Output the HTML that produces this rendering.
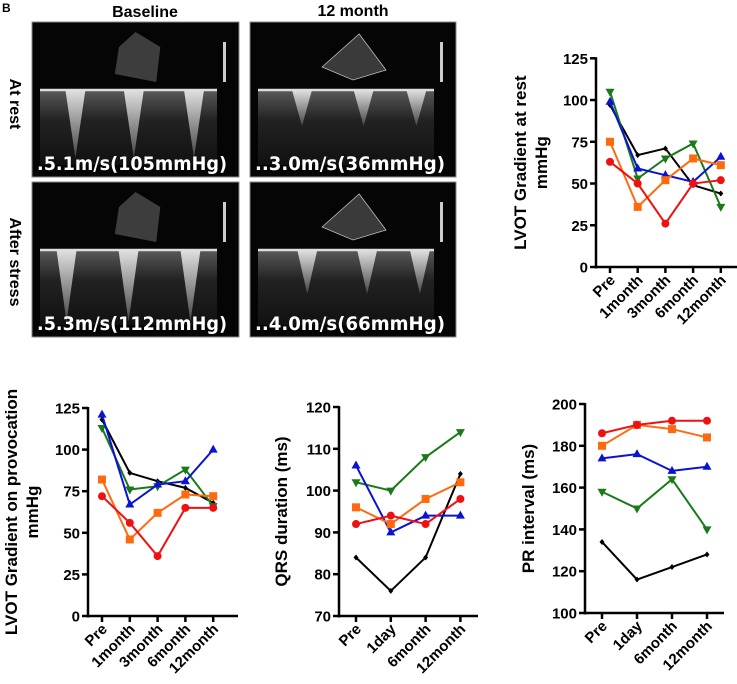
<!DOCTYPE html>
<html><head><meta charset="utf-8"><style>
html,body{margin:0;padding:0;background:#fff;}
svg{display:block;font-family:"Liberation Sans",Arial,sans-serif;}
</style></head><body>
<svg id="fig" width="737" height="684" viewBox="0 0 737 684" xmlns="http://www.w3.org/2000/svg">
<defs>
<linearGradient id="dop" x1="0" y1="0" x2="0" y2="1"><stop offset="0" stop-color="#e0e0e0"/><stop offset="1" stop-color="#444"/></linearGradient>
<linearGradient id="bg" x1="0" y1="0" x2="0" y2="1"><stop offset="0" stop-color="#5a5a5a"/><stop offset="0.4" stop-color="#222"/><stop offset="1" stop-color="#111"/></linearGradient>
</defs>
<text x="2" y="12" font-size="12" font-weight="bold" fill="#000">B</text>
<text x="145" y="17" font-size="16" font-weight="bold" text-anchor="middle">Baseline</text>
<text x="353" y="16" font-size="16" font-weight="bold" text-anchor="middle">12 month</text>
<text transform="translate(10,104) rotate(90)" font-size="16" font-weight="bold" text-anchor="middle">At rest</text>
<text transform="translate(10,262) rotate(90)" font-size="16" font-weight="bold" text-anchor="middle">After stress</text>
<g id="echo"></g>
<g id="charts"></g>
</svg>
<script>
// ---- chart data ----
const restCats = ["Pre","1month","3month","6month","12month"];
const restBlack = [97,67,71,49,44];
const restGreen = [105,53,65,74,36];
const restBlue = [99,59,55,51,66];
const restOrange = [75,36,52,65,61];
const restRed = [63,50,26,50,52];
const restTicks = [0,25,50,75,100,125];

const provCats = ["Pre","1month","3month","6month","12month"];
const provBlack = [118,86,81,77,68];
const provGreen = [113,76,78,88,66];
const provBlue = [121,67,79,81,100];
const provOrange = [82,46,62,73,72];
const provRed = [72,56,36,65,65];
const provTicks = [0,25,50,75,100,125];

const qrsCats = ["Pre","1day","6month","12month"];
const qrsBlack = [84,76,84,104];
const qrsGreen = [102,100,108,114];
const qrsBlue = [106,90,94,94];
const qrsOrange = [96,92,98,102];
const qrsRed = [92,94,92,98];
const qrsTicks = [70,80,90,100,110,120];

const prCats = ["Pre","1day","6month","12month"];
const prBlack = [134,116,122,128];
const prGreen = [158,150,164,140];
const prBlue = [174,176,168,170];
const prOrange = [180,190,188,184];
const prRed = [186,190,192,192];
const prTicks = [100,120,140,160,180,200];

const NS = "http://www.w3.org/2000/svg";
function mk(tag, attrs, parent){const e=document.createElementNS(NS,tag);for(const k in attrs)e.setAttribute(k,attrs[k]);parent.appendChild(e);return e;}

// ---- echo panels ----
const echo=document.getElementById('echo');
const panels=[
 {x:32,y:22,w:207,h:155,txt:".5.1m/s(105mmHg)",beats:[0.2,0.53,0.87],depth:0.85,n:"baseline-rest",sec:0},
 {x:250,y:22,w:206,h:155,txt:"..3.0m/s(36mmHg)",beats:[0.25,0.6,0.9],depth:0.45,n:"12month-rest",sec:1},
 {x:32,y:182,w:207,h:155,txt:".5.3m/s(112mmHg)",beats:[0.15,0.5,0.85],depth:0.9,n:"baseline-stress",sec:0},
 {x:250,y:182,w:206,h:155,txt:"..4.0m/s(66mmHg)",beats:[0.28,0.62,0.92],depth:0.55,n:"12month-stress",sec:1}
];
panels.forEach(p=>{
 const g=mk('g',{},echo);
 
 
 mk('rect',{x:p.x,y:p.y,width:p.w,height:p.h,fill:'#050505',stroke:'#888','stroke-width':1},g);
 const by=p.y+68;
 if(p.sec){
  mk('polygon',{points:`${p.x+p.w*0.53},${p.y+12} ${p.x+p.w*0.66},${p.y+48} ${p.x+p.w*0.5},${p.y+58} ${p.x+p.w*0.35},${p.y+45}`,fill:'#3a3a3a',stroke:'#bbb','stroke-width':0.8},g);
 } else {
  mk('polygon',{points:`${p.x+p.w*0.5},${p.y+10} ${p.x+p.w*0.62},${p.y+25} ${p.x+p.w*0.6},${p.y+60} ${p.x+p.w*0.4},${p.y+52} ${p.x+p.w*0.42},${p.y+25}`,fill:'#444',opacity:0.9},g);
 }
 mk('rect',{x:p.x+8,y:by,width:p.w-30,height:p.h-80,fill:'url(#bg)'},g);
 mk('line',{x1:p.x+8,y1:by,x2:p.x+p.w-22,y2:by,stroke:'#ddd','stroke-width':2.5},g);
 p.beats.forEach(b=>{
  const cx=p.x+8+(p.w-30)*b;
  mk('polygon',{points:`${cx-10},${by} ${cx+10},${by} ${cx},${by+(p.h-75)*p.depth}`,fill:'url(#dop)'},g);
 });
 mk('rect',{x:p.x+p.w-16,y:p.y+20,width:3,height:40,fill:'#ccc'},g);
 const t=mk('text',{x:p.x+5,y:p.y+p.h-7,'font-size':19,'font-weight':'bold',fill:'#fff',textLength:190,lengthAdjust:'spacingAndGlyphs','font-family':'"DejaVu Sans","Liberation Sans",sans-serif'},g);
 t.textContent=p.txt;
 
 
});

// ---- charts ----
const charts=document.getElementById('charts');
const colors={black:'#000',green:'#1a7a1a',blue:'#0a14d0',orange:'#ff6a10',red:'#f01010'};
function marker(g,shape,x,y,c){
 if(shape==='circle')mk('circle',{cx:x,cy:y,r:4,fill:c},g);
 else if(shape==='square')mk('rect',{x:x-4,y:y-4,width:8,height:8,fill:c},g);
 else if(shape==='up')mk('polygon',{points:`${x},${y-5} ${x+4.5},${y+3} ${x-4.5},${y+3}`,fill:c},g);
 else if(shape==='down')mk('polygon',{points:`${x},${y+5} ${x+4.5},${y-3} ${x-4.5},${y-3}`,fill:c},g);
 else mk('polygon',{points:`${x},${y-3} ${x+2.5},${y} ${x},${y+3} ${x-2.5},${y}`,fill:c},g);
}
function chart(cfg){
 const g=mk('g',{},charts);
 
 
 const min=cfg.ticks[0],max=cfg.ticks[cfg.ticks.length-1];
 const yS=v=>cfg.y0+(cfg.y1-cfg.y0)*(v-min)/(max-min);
 const xS=i=>cfg.xc0+i*cfg.dx;
 mk('line',{x1:cfg.ax,y1:cfg.y1-1,x2:cfg.ax,y2:cfg.y0+1.5,stroke:'#000','stroke-width':2.5},g);
 mk('line',{x1:cfg.ax-1.2,y1:cfg.y0,x2:cfg.axEnd,y2:cfg.y0,stroke:'#000','stroke-width':2.5},g);
 cfg.ticks.forEach(t=>{
  const y=yS(t);
  mk('line',{x1:cfg.ax-6,y1:y,x2:cfg.ax,y2:y,stroke:'#000','stroke-width':2.5},g);
  const tx=mk('text',{x:cfg.ax-8,y:y+5.5,'font-size':15,'font-weight':'bold','text-anchor':'end'},g);
  tx.textContent=t;
  
  
 });
 cfg.cats.forEach((c,i)=>{
  const x=xS(i);
  mk('line',{x1:x,y1:cfg.y0,x2:x,y2:cfg.y0+6,stroke:'#000','stroke-width':2.5},g);
  const tx=mk('text',{transform:`translate(${x+6},${cfg.y0+14}) rotate(-45)`,'font-size':15,'font-weight':'bold','text-anchor':'end'},g);
  tx.textContent=c;
  
  
 });
 const tl=mk('text',{transform:`translate(${cfg.tx},${(cfg.y0+cfg.y1)/2}) rotate(-90)`,'font-size':17,'font-weight':'bold','text-anchor':'middle'},g);
 tl.textContent=cfg.title;
 
 
 if(cfg.title2){
  const t2=mk('text',{transform:`translate(${cfg.tx+21},${(cfg.y0+cfg.y1)/2}) rotate(-90)`,'font-size':17,'font-weight':'bold','text-anchor':'middle'},g);
  t2.textContent=cfg.title2;
  
  
 }
 cfg.series.forEach(s=>{
  const sg=mk('g',{},g);
  
  
  const pts=s.v.map((v,i)=>xS(i)+','+yS(v)).join(' ');
  mk('polyline',{points:pts,fill:'none',stroke:colors[s.k],'stroke-width':2},sg);
  s.v.forEach((v,i)=>marker(sg,s.m,xS(i),yS(v),colors[s.k]));
 });
}
chart({name:'rest-gradient-chart',cats:restCats,ticks:restTicks,ax:596,axEnd:737,y0:267,y1:58.3,xc0:610,dx:27.7,tx:526,title:'LVOT Gradient at rest',title2:'mmHg',
 series:[{k:'black',v:restBlack,m:'d'},{k:'green',v:restGreen,m:'down'},{k:'blue',v:restBlue,m:'up'},{k:'orange',v:restOrange,m:'square'},{k:'red',v:restRed,m:'circle'}]});
chart({name:'provocation-gradient-chart',cats:provCats,ticks:provTicks,ax:88,axEnd:238,y0:616,y1:408,xc0:102,dx:27.8,tx:17,title:'LVOT Gradient on provocation',title2:'mmHg',
 series:[{k:'black',v:provBlack,m:'d'},{k:'green',v:provGreen,m:'down'},{k:'blue',v:provBlue,m:'up'},{k:'orange',v:provOrange,m:'square'},{k:'red',v:provRed,m:'circle'}]});
chart({name:'qrs-duration-chart',cats:qrsCats,ticks:qrsTicks,ax:339,axEnd:478,y0:616,y1:407,xc0:356,dx:34.8,tx:287,title:'QRS duration (ms)',
 series:[{k:'black',v:qrsBlack,m:'d'},{k:'green',v:qrsGreen,m:'down'},{k:'blue',v:qrsBlue,m:'up'},{k:'orange',v:qrsOrange,m:'square'},{k:'red',v:qrsRed,m:'circle'}]});
chart({name:'pr-interval-chart',cats:prCats,ticks:prTicks,ax:585,axEnd:724,y0:613,y1:404,xc0:602,dx:35,tx:534,title:'PR interval (ms)',
 series:[{k:'black',v:prBlack,m:'d'},{k:'green',v:prGreen,m:'down'},{k:'blue',v:prBlue,m:'up'},{k:'orange',v:prOrange,m:'square'},{k:'red',v:prRed,m:'circle'}]});
</script>
</body></html>
